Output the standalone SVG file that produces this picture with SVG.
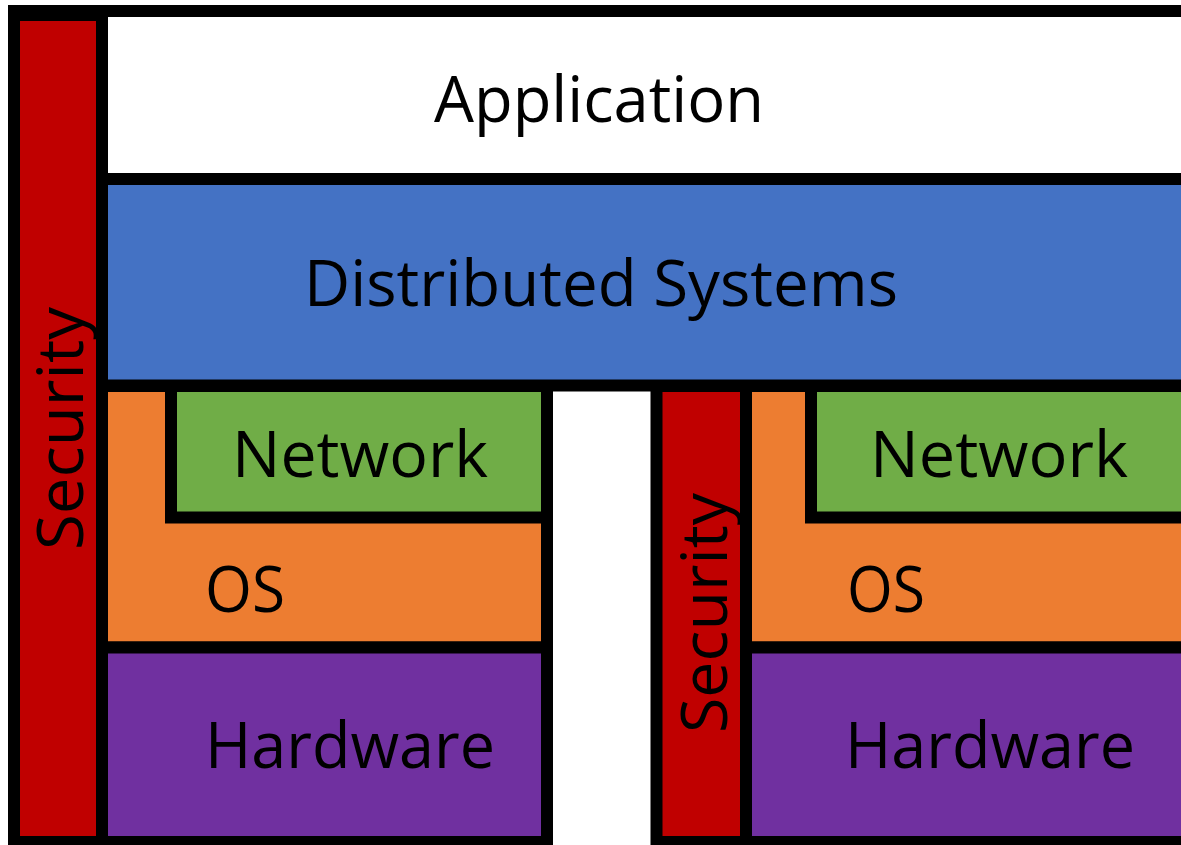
<svg xmlns="http://www.w3.org/2000/svg" width="1181" height="845" viewBox="0 0 1181 845">
<style>
.box{stroke:#000;stroke-width:12}
.lbl{font-family:"Open Sans","Noto Sans","Liberation Sans",sans-serif;fill:#000;font-size:64px}
.red{fill:#C00000}.white{fill:#FFFFFF}.blue{fill:#4472C4}.orange{fill:#ED7D31}.green{fill:#70AD47}.purple{fill:#7030A0}
</style>
<rect width="1181" height="845" fill="#FFFFFF"/>
<g id="application">
<rect class="box white" x="102" y="11" width="1100" height="168"/>
<text class="lbl" x="434" y="122" font-size="68" textLength="330" lengthAdjust="spacingAndGlyphs">Application</text>
</g>
<g id="distributed-systems">
<rect class="box blue" x="102" y="179" width="1100" height="206.5"/>
<text class="lbl" x="304" y="306" textLength="594" lengthAdjust="spacingAndGlyphs">Distributed Systems</text>
</g>
<g id="security-left">
<rect class="box red" x="14" y="11" width="88" height="831"/>
<rect x="20" y="17" width="76" height="4" fill="#000"/>
<text class="lbl" transform="translate(83,550) rotate(-90)" x="0" y="0" textLength="243" lengthAdjust="spacingAndGlyphs">Security</text>
</g>
<g id="os-left">
<rect class="box orange" x="102" y="386" width="445" height="261.5"/>
<text class="lbl" x="205" y="612" textLength="80" lengthAdjust="spacingAndGlyphs">OS</text>
</g>
<g id="network-left">
<rect class="box green" x="171" y="386" width="376" height="131.5"/>
<text class="lbl" x="232" y="477" textLength="256" lengthAdjust="spacingAndGlyphs">Network</text>
</g>
<g id="hardware-left">
<rect class="box purple" x="102" y="647.5" width="445" height="194.5"/>
<text class="lbl" x="205" y="768" textLength="290" lengthAdjust="spacingAndGlyphs">Hardware</text>
</g>
<g id="security-right">
<rect class="box red" x="656.5" y="386" width="89.5" height="456"/>
<text class="lbl" transform="translate(727,733) rotate(-90)" x="0" y="0" textLength="240" lengthAdjust="spacingAndGlyphs">Security</text>
</g>
<g id="os-right">
<rect class="box orange" x="746" y="386" width="456" height="261.5"/>
<text class="lbl" x="847" y="612" textLength="78" lengthAdjust="spacingAndGlyphs">OS</text>
</g>
<g id="network-right">
<rect class="box green" x="811" y="386" width="391" height="131.5"/>
<text class="lbl" x="870" y="477" textLength="258" lengthAdjust="spacingAndGlyphs">Network</text>
</g>
<g id="hardware-right">
<rect class="box purple" x="746" y="647.5" width="456" height="194.5"/>
<text class="lbl" x="845" y="768" textLength="290" lengthAdjust="spacingAndGlyphs">Hardware</text>
</g>
<g id="connectors"></g>
</svg>
